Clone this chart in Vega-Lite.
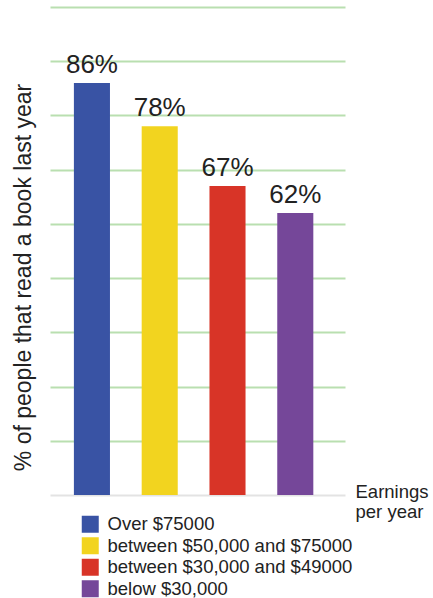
{
  "$schema": "https://vega.github.io/schema/vega-lite/v6.json",
  "width": 295,
  "height": 488,
  "autosize": {"type": "none"},
  "padding": {"left": 50, "top": 7, "right": 88, "bottom": 103},
  "background": "white",
  "config": {
    "view": {"stroke": null},
    "font": "Liberation Sans, Arial, sans-serif"
  },
  "data": {
    "values": [
      {"Earnings": "Over $75000", "value": 86, "label": "86%"},
      {"Earnings": "between $50,000 and $75000", "value": 78, "label": "78%"},
      {"Earnings": "between $30,000 and $49000", "value": 67, "label": "67%"},
      {"Earnings": "below $30,000", "value": 62, "label": "62%"}
    ]
  },
  "encoding": {
    "x": {
      "field": "Earnings",
      "type": "nominal",
      "sort": null,
      "scale": {"paddingInner": 0.468, "paddingOuter": 0.41, "align": 0.43},
      "axis": {
        "labels": false,
        "ticks": false,
        "domain": true,
        "domainColor": "#e3e3e3",
        "domainWidth": 2,
        "title": ["Earnings", "per year"],
        "titleFontSize": 18.5,
        "titleFontWeight": "normal",
        "titleColor": "#222222",
        "titleAlign": "left",
        "titleBaseline": "alphabetic",
        "titleX": 305,
        "titleY": 2,
        "titleLineHeight": 20
      }
    },
    "y": {
      "field": "value",
      "type": "quantitative",
      "scale": {"domain": [10, 100], "nice": false, "zero": false},
      "axis": {
        "values": [20, 30, 40, 50, 60, 70, 80, 90, 100],
        "labels": false,
        "ticks": false,
        "domain": false,
        "grid": true,
        "gridColor": "#b9dfb0",
        "gridWidth": 2,
        "title": "% of people that read a book last year",
        "titleFontSize": 23,
        "titleFontWeight": "normal",
        "titleColor": "#222222",
        "titleAngle": -90,
        "titleAlign": "center",
        "titleBaseline": "alphabetic",
        "titleX": -20,
        "titleY": 270
      }
    }
  },
  "layer": [
    {
      "mark": {"type": "bar"},
      "encoding": {
        "y2": {"datum": 10},
        "color": {
          "field": "Earnings",
          "type": "nominal",
          "sort": null,
          "scale": {
            "domain": ["Over $75000", "between $50,000 and $75000", "between $30,000 and $49000", "below $30,000"],
            "range": ["#3953a4", "#f2d41f", "#d83427", "#754799"]
          },
          "legend": {
            "title": null,
            "orient": "none",
            "legendX": 31,
            "legendY": 508,
            "padding": 0,
            "symbolType": "square",
            "symbolSize": 289,
            "symbolStrokeWidth": 0,
            "symbolOpacity": 1,
            "labelFontSize": 18.5,
            "labelColor": "#222222",
            "labelOffset": 8,
            "rowPadding": 2.5,
            "labelLimit": 400
          }
        }
      }
    },
    {
      "mark": {"type": "text", "fontSize": 26, "color": "#222222", "baseline": "alphabetic", "dy": -10},
      "encoding": {
        "text": {"field": "label"}
      }
    }
  ]
}
